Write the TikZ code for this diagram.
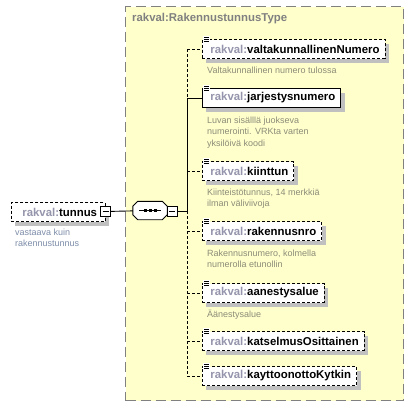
\documentclass[tikz,border=0pt]{standalone}
\usepackage{fontspec}
\setmainfont{Liberation Sans}
\usepackage{xcolor}
\usetikzlibrary{positioning, shadows}
\definecolor{xsdyellow}{HTML}{FFFFCC}
\definecolor{xsdgray}{HTML}{808080}
\definecolor{xsdprefix}{HTML}{9494AC}
\definecolor{xsddoc}{HTML}{8C8C78}
\definecolor{xsdnote}{HTML}{7C8CA8}
\definecolor{xsdshadow}{HTML}{C0C0C0}
\newcommand{\xname}[1]{\textcolor{xsdprefix}{rakval:}#1}
\newcommand{\docicon}[1]{%
  \fill[white] ([shift={(1,-3)}]#1.north west) rectangle ++(7,6);
  \foreach \k in {-2,0,2} \draw[line width=0.8pt] ([shift={(2,\k)}]#1.north west) -- ++(5,0);}

\begin{document}
\begin{tikzpicture}[
    x=1pt, y=-1pt,
    elem/.style={draw, fill=white, anchor=west, minimum height=19pt, inner ysep=0pt, inner xsep=3pt,
      line width=0.9pt, font=\fontsize{11.4}{13}\selectfont\bfseries,
      execute at begin node=\hspace{5pt}, execute at end node=\hspace{2.5pt},
      drop shadow={shadow xshift=4pt, shadow yshift=-4pt, fill=xsdshadow, opacity=1}},
    opt/.style={elem, dash pattern=on 3pt off 2pt},
    doc/.style={anchor=north west, align=left, inner sep=0pt, font=\fontsize{9}{11.2}\selectfont, text=xsddoc},
    minus/.style={draw, fill=white, minimum size=10pt, inner sep=0pt, line width=0.8pt,
      path picture={\draw ([xshift=2pt]path picture bounding box.west) -- ([xshift=-2pt]path picture bounding box.east);}},
    link/.style={line width=0.9pt},
    optlink/.style={link, dash pattern=on 3pt off 2pt},
]
\useasboundingbox (0,0) rectangle (414,407);

% Complex type
\node[draw=xsdgray, fill=xsdyellow, line width=1.2pt, dash pattern=on 10pt off 5pt,
  minimum width=278pt, minimum height=394pt, anchor=north west, inner sep=0pt] (ctype) at (125,6) {};
\node[anchor=west, inner sep=0pt, text=xsdgray, font=\fontsize{11.4}{13}\selectfont\bfseries] (ctitle) at (132,19) {rakval:RakennustunnusType};

% Root element
\node[opt, minimum width=94pt] (root) at (11,212) {\xname{tunnus}\hfill};
\node[minus] (rootminus) at (105.5,211.5) {};
\node[doc, text=xsdnote] (rootdoc) at (15,229) {vastaava kuin\\rakennustunnus};

% Sequence
\node[minimum width=34pt, minimum height=18pt, inner sep=0pt] (seq) at (150,210.5) {};
\fill[xsdshadow, shift={(4,4)}] ([xshift=5pt]seq.north west) -- ([xshift=-5pt]seq.north east) -- ([yshift=-5pt]seq.north east)
  -- ([yshift=5pt]seq.south east) -- ([xshift=-5pt]seq.south east) -- ([xshift=5pt]seq.south west)
  -- ([yshift=5pt]seq.south west) -- ([yshift=-5pt]seq.north west) -- cycle;
\draw[link, fill=white] ([xshift=5pt]seq.north west) -- ([xshift=-5pt]seq.north east) -- ([yshift=-5pt]seq.north east)
  -- ([yshift=5pt]seq.south east) -- ([xshift=-5pt]seq.south east) -- ([xshift=5pt]seq.south west)
  -- ([yshift=5pt]seq.south west) -- ([yshift=-5pt]seq.north west) -- cycle;
\draw[link] ([xshift=-11pt]seq.center) -- ([xshift=11pt]seq.center);
\foreach \dx in {-5,0,5} \fill ([xshift=\dx pt]seq.center) +(-1.5,-1.5) rectangle +(1.5,1.5);
\node[minus] (seqminus) at (172,211) {};
\coordinate (spine) at (187,211);

% Children
\node[opt]  (valtnro) at (202,49)  {\xname{valtakunnallinenNumero}};
\node[elem] (jarjnro) at (202,98)  {\xname{jarjestysnumero}};
\node[opt]  (kiinttun) at (202,171) {\xname{kiinttun}};
\node[opt]  (raknro) at (202,231) {\xname{rakennusnro}};
\node[opt]  (aanalue) at (202,293) {\xname{aanestysalue}};
\node[opt]  (katsel) at (202,341) {\xname{katselmusOsittainen}};
\node[opt]  (kaytto) at (202,376) {\xname{kayttoonottoKytkin}};
\foreach \n in {valtnro, jarjnro, kiinttun, raknro, aanalue, katsel, kaytto} {\docicon{\n}}

% Annotations
\node[doc] (valtnrodoc) at (207,67) {Valtakunnallinen numero tulossa};
\node[doc] (jarjnrodoc) at (207,117) {Luvan sisälllä juokseva\\numerointi. VRKta varten\\yksilöivä koodi};
\node[doc] (kiinttundoc) at (207,189) {Kiinteistötunnus, 14 merkkiä\\ilman väliviivoja};
\node[doc] (raknrodoc) at (207,250) {Rakennusnumero, kolmella\\numerolla etunollin};
\node[doc] (aanaluedoc) at (207,310) {Äänestysalue};

% Connectors
\draw[link] (rootminus) -- (seq);
\draw[link] (seqminus) -- (spine);
\draw[optlink] (spine |- valtnro.west) -- (spine |- jarjnro.west);
\draw[link] (spine |- jarjnro.west) -- (spine);
\draw[optlink] (spine) -- (spine |- kaytto.west);
\draw[optlink] (spine |- valtnro.west) -- (valtnro.west);
\draw[link] (spine |- jarjnro.west) -- (jarjnro.west);
\foreach \n in {kiinttun, raknro, aanalue, katsel, kaytto}
  \draw[optlink] (spine |- \n.west) -- (\n.west);

\end{tikzpicture}
\end{document}
